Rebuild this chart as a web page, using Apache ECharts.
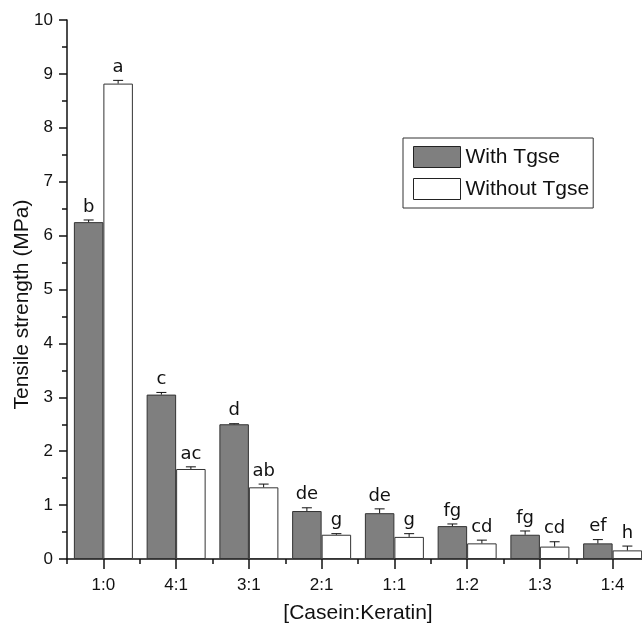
<!DOCTYPE html>
<html>
<head>
<meta charset="utf-8">
<script src="https://cdn.jsdelivr.net/npm/echarts@6/dist/echarts.min.js"></script>
<style>
  html, body { margin: 0; padding: 0; background: #fff; }
  #chart { width: 642px; height: 626px; }
</style>
</head>
<body>
<div id="chart"></div>
<script>
(function () {
    "use strict";

    /*----data----*/
    var categories = ['1:0', '4:1', '3:1', '2:1', '1:1', '1:2', '1:3', '1:4'];
    var withTgse = [6.25, 3.05, 2.50, 0.89, 0.85, 0.61, 0.45, 0.29];
    var withoutTgse = [8.82, 1.67, 1.33, 0.45, 0.41, 0.29, 0.23, 0.16];
    var withErr = [0.04, 0.04, 0.01, 0.06, 0.08, 0.04, 0.07, 0.07];
    var withoutErr = [0.06, 0.04, 0.06, 0.02, 0.06, 0.06, 0.09, 0.08];
    var withLetters = ['b', 'c', 'd', 'de', 'de', 'fg', 'fg', 'ef'];
    var withoutLetters = ['a', 'ac', 'ab', 'g', 'g', 'cd', 'cd', 'h'];

    var BAR_W = 29.5;
    var axisColor = '#111';

    function errData(vals, errs) {
        return vals.map(function (v, i) { return [i, v, errs[i]]; });
    }

    // error bar (upward only) plus significance letter
    function errRenderer(side, letters) {
        return function (params, api) {
            var i = api.value(0);
            var top = api.coord([i, api.value(1)]);
            var cap = api.coord([i, api.value(1) + api.value(2)]);
            var x = top[0] + side * BAR_W / 2;
            return {
                type: 'group',
                children: [{
                    type: 'line',
                    shape: { x1: x, y1: top[1], x2: x, y2: cap[1] },
                    style: { stroke: '#111', lineWidth: 1 }
                }, {
                    type: 'line',
                    shape: { x1: x - 5, y1: cap[1], x2: x + 5, y2: cap[1] },
                    style: { stroke: '#111', lineWidth: 1 }
                }, {
                    type: 'text',
                    style: {
                        text: letters[params.dataIndex],
                        x: x,
                        y: cap[1] - 4,
                        align: 'center',
                        verticalAlign: 'bottom',
                        fill: '#111',
                        font: '18px "DejaVu Sans"'
                    }
                }]
            };
        };
    }

    var option = {
        backgroundColor: '#fff',
        animation: false,
        grid: {
            left: 67,
            top: 20,
            width: 582,
            height: 539,
            outerBoundsMode: 'none'
        },
        legend: {
            orient: 'vertical',
            left: 403,
            top: 138,
            itemWidth: 47,
            itemHeight: 21,
            itemGap: 10,
            padding: [8, 4, 8, 10],
            borderColor: '#333',
            borderWidth: 1,
            borderRadius: 0,
            icon: 'rect',
            selectedMode: false,
            textStyle: {
                fontFamily: '"Liberation Sans", Arial',
                fontSize: 21,
                color: '#111'
            },
            data: [
                { name: 'With Tgse', itemStyle: { color: '#7f7f7f', borderColor: '#222', borderWidth: 1 } },
                { name: 'Without Tgse', itemStyle: { color: '#fff', borderColor: '#222', borderWidth: 1 } }
            ]
        },
        xAxis: [{
            type: 'category',
            data: categories,
            position: 'bottom',
            name: '[Casein:Keratin]',
            nameLocation: 'middle',
            nameGap: 44,
            nameMoveOverlap: false,
            nameTextStyle: {
                fontFamily: '"Liberation Sans", Arial',
                fontSize: 21,
                color: '#111'
            },
            axisLine: { show: true, lineStyle: { color: axisColor, width: 1.5 } },
            axisTick: { show: true, alignWithLabel: true, length: 10, lineStyle: { color: axisColor, width: 1.5 } },
            axisLabel: {
                fontFamily: '"Liberation Sans", Arial',
                fontSize: 17,
                color: '#111',
                margin: 18
            },
            splitLine: { show: false }
        }, {
            type: 'category',
            data: categories,
            position: 'bottom',
            axisLine: { show: false },
            axisTick: { show: true, length: 5, lineStyle: { color: axisColor, width: 1.5 } },
            axisLabel: { show: false },
            splitLine: { show: false }
        }],
        yAxis: {
            type: 'value',
            min: 0,
            max: 10,
            interval: 1,
            name: 'Tensile strength (MPa)',
            nameLocation: 'middle',
            nameGap: 34,
            nameMoveOverlap: false,
            nameTextStyle: {
                fontFamily: '"Liberation Sans", Arial',
                fontSize: 21,
                color: '#111',
                padding: [0, 30, 0, 0]
            },
            axisLine: { show: true, lineStyle: { color: axisColor, width: 1.5 } },
            axisTick: { show: true, length: 8, lineStyle: { color: axisColor, width: 1.5 } },
            minorTick: { show: true, splitNumber: 2, length: 5, lineStyle: { color: axisColor, width: 1.5 } },
            axisLabel: {
                fontFamily: '"Liberation Sans", Arial',
                fontSize: 17,
                color: '#111',
                margin: 14
            },
            splitLine: { show: false },
            minorSplitLine: { show: false }
        },
        series: [{
            name: 'With Tgse',
            type: 'bar',
            barWidth: BAR_W,
            barGap: '0%',
            data: withTgse,
            itemStyle: { color: '#7f7f7f', borderColor: '#333', borderWidth: 1 }
        }, {
            name: 'Without Tgse',
            type: 'bar',
            barWidth: BAR_W,
            barGap: '0%',
            data: withoutTgse,
            itemStyle: { color: '#fff', borderColor: '#333', borderWidth: 1 }
        }, {
            type: 'custom',
            renderItem: errRenderer(-1, withLetters),
            data: errData(withTgse, withErr),
            encode: { x: 0, y: 1 },
            clip: false,
            silent: true,
            z: 5
        }, {
            type: 'custom',
            renderItem: errRenderer(1, withoutLetters),
            data: errData(withoutTgse, withoutErr),
            encode: { x: 0, y: 1 },
            clip: false,
            silent: true,
            z: 5
        }]
    };

    var chart = echarts.init(document.getElementById('chart'));
    chart.setOption(option);
})();
</script>
</body>
</html>
